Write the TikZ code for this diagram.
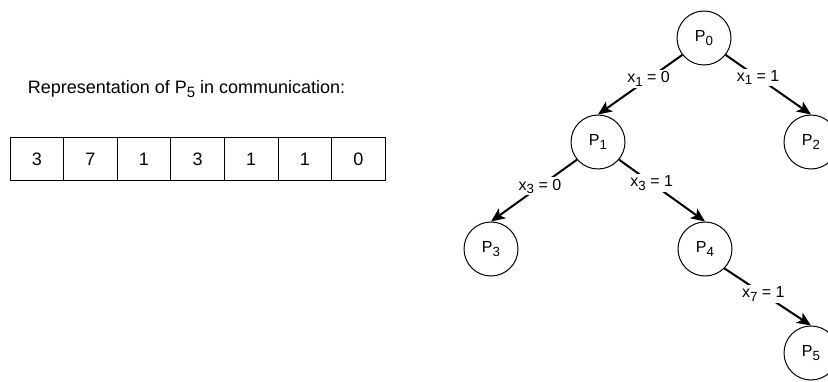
\documentclass[tikz,border=0pt]{standalone}
\usepackage{fontspec}
\setmainfont{Liberation Sans}
\usetikzlibrary{arrows.meta, positioning}
\makeatletter
\newcommand{\idx}[1]{\raisebox{-0.22em}{\fontsize{\strip@pt\dimexpr\f@size pt*83/100\relax}{1}\selectfont #1}}
\makeatother

\begin{document}
\begin{tikzpicture}[x=1pt, y=1pt,
    state/.style={draw, circle, line width=1pt, minimum size=54pt, inner sep=0pt, font=\fontsize{16}{19}\selectfont},
    cell/.style={draw, line width=1pt, minimum width=53.6pt, minimum height=42pt, inner sep=0pt, font=\fontsize{18}{21}\selectfont},
    edge/.style={line width=2pt, -{Stealth[length=14pt, width=12pt, inset=3.5pt]}},
    lbl/.style={fill=white, inner sep=1.5pt, font=\fontsize{16}{19}\selectfont}]
    \useasboundingbox (0,0) rectangle (828,381);
    % message layout
    \node[font=\fontsize{18}{21}\selectfont] (caption) at (186.5,292) {Representation of P\idx{5} in communication:};
    \foreach \v [count=\i] in {3,7,1,3,1,1,0}
        \node[cell] (c\i) at ({10+53.6*(\i-0.5)},222) {\v};
    % decision tree
    \node[state] (p0) at (704,343) {P\idx{0}};
    \node[state] (p1) at (598,239) {P\idx{1}};
    \node[state] (p2) at (811,239) {P\idx{2}};
    \node[state] (p3) at (491,132) {P\idx{3}};
    \node[state] (p4) at (705,132) {P\idx{4}};
    \node[state] (p5) at (811,28) {P\idx{5}};
    \draw[edge] (p0.218) -- node[lbl, pos=0.4] {x\idx{1} = 0} (p1.north);
    \draw[edge] (p0.322) -- node[lbl, pos=0.38] {x\idx{1} = 1} (p2.north);
    \draw[edge] (p1.220) -- node[lbl, pos=0.43] {x\idx{3} = 0} (p3.north);
    \draw[edge] (p1.320) -- node[lbl, pos=0.38] {x\idx{3} = 1} (p4.north);
    \draw[edge] (p4.315) -- node[lbl, pos=0.45] {x\idx{7} = 1} (p5.north);
\end{tikzpicture}
\end{document}
